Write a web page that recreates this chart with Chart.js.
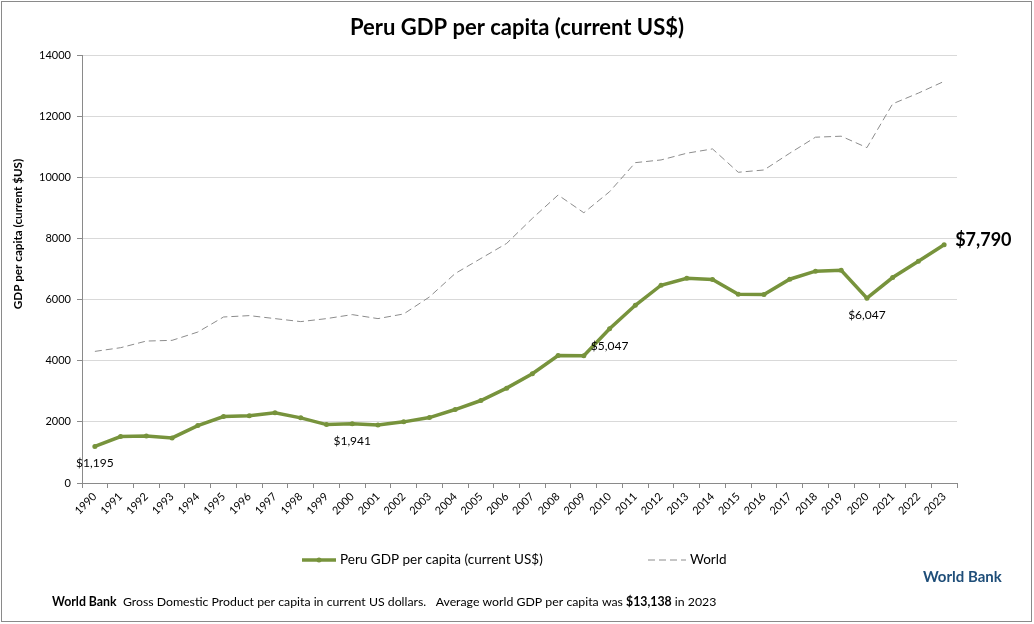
<!DOCTYPE html>
<html>
<head>
<meta charset="utf-8">
<script src="https://cdn.jsdelivr.net/npm/chart.js@4.4.1/dist/chart.umd.min.js"></script>
<style>
  html, body { margin: 0; padding: 0; background: #fff; }
  #wrap { width: 1034px; height: 624px; position: relative; }
  canvas { display: block; }
</style>
</head>
<body>
<div id="wrap"><canvas id="c" width="1034" height="624"></canvas></div>
<script>
const years = ['1990','1991','1992','1993','1994','1995','1996','1997','1998','1999',
  '2000','2001','2002','2003','2004','2005','2006','2007','2008','2009',
  '2010','2011','2012','2013','2014','2015','2016','2017','2018','2019',
  '2020','2021','2022','2023'];
const peruGdp = [1195,1518,1541,1475,1879,2174,2197,2295,2131,1911,
  1941,1901,2000,2141,2403,2698,3103,3574,4170,4160,
  5047,5813,6469,6698,6655,6170,6165,6666,6928,6961,
  6047,6721,7256,7790];
const worldGdp = [4305,4426,4643,4666,4938,5430,5475,5377,5279,5377,
  5508,5377,5530,6085,6852,7344,7836,8656,9420,8840,
  9528,10479,10567,10787,10928,10164,10239,10787,11311,11344,
  10970,12403,12754,13138];
const yTicks = [0,2000,4000,6000,8000,10000,12000,14000];
const annotatedYears = ['1990','2000','2010','2020'];
const highlightYear = '2023';
const chartTitle = 'Peru GDP per capita (current US$)';

const FONT = 'Lato, "Open Sans", sans-serif';
const GREEN = '#77933C';
const GREY = '#8c8c8c';

function fmt(v) { return '$' + v.toLocaleString('en-US'); }

const extras = {
  id: 'extras',
  afterDatasetsDraw(chart) {
    const ctx = chart.ctx;
    const xs = chart.scales.x, ys = chart.scales.y;
    ctx.save();
    ctx.fillStyle = '#000';
    ctx.textAlign = 'center';
    ctx.textBaseline = 'middle';
    ctx.font = '12px ' + FONT;
    annotatedYears.forEach(yr => {
      const i = years.indexOf(yr);
      const px = xs.getPixelForValue(i);
      const py = ys.getPixelForValue(peruGdp[i]);
      ctx.fillText(fmt(peruGdp[i]), px, py + 17);
    });
    const hi = years.indexOf(highlightYear);
    ctx.textAlign = 'left';
    ctx.font = 'bold 18px ' + FONT;
    ctx.fillText(fmt(peruGdp[hi]), xs.getPixelForValue(hi) + 11, ys.getPixelForValue(peruGdp[hi]) - 5);
    ctx.restore();
  },
  afterDraw(chart) {
    const ctx = chart.ctx;
    ctx.save();
    // outer border
    ctx.strokeStyle = '#8a8a8a';
    ctx.lineWidth = 1;
    ctx.strokeRect(1.5, 1.5, 1030, 620);
    // title
    ctx.fillStyle = '#000';
    ctx.font = 'bold 22px ' + FONT;
    ctx.textAlign = 'center';
    ctx.textBaseline = 'middle';
    ctx.fillText(chartTitle, 517, 28);
    // y axis title
    ctx.save();
    ctx.translate(18, 234);
    ctx.rotate(-Math.PI / 2);
    ctx.font = 'bold 11.7px ' + FONT;
    ctx.fillStyle = '#000';
    ctx.textAlign = 'center';
    ctx.textBaseline = 'middle';
    ctx.fillText('GDP per capita (current $US)', 0, 0);
    ctx.restore();
    // legend
    const ds = chart.data.datasets;
    const ly = 560;
    const items = [{x: 302, w: 34}, {x: 648, w: 38}];
    ds.forEach((d, k) => {
      const it = items[k];
      ctx.save();
      ctx.strokeStyle = d.borderColor;
      ctx.lineWidth = d.borderWidth;
      ctx.setLineDash(d.borderDash || []);
      ctx.beginPath();
      ctx.moveTo(it.x, ly);
      ctx.lineTo(it.x + it.w, ly);
      ctx.stroke();
      if (d.pointRadius) {
        ctx.fillStyle = d.borderColor;
        ctx.beginPath();
        ctx.arc(it.x + it.w / 2, ly, 2.5, 0, Math.PI * 2);
        ctx.fill();
      }
      ctx.restore();
      ctx.fillStyle = '#000';
      ctx.font = '13.5px ' + FONT;
      ctx.textAlign = 'left';
      ctx.textBaseline = 'middle';
      ctx.fillText(d.label, it.x + it.w + 4, ly);
    });
    // World Bank right
    ctx.font = 'bold 15px ' + FONT;
    ctx.fillStyle = '#1F4E79';
    ctx.textAlign = 'left';
    ctx.fillText('World Bank', 923, 577);
    // footer
    const parts = [
      ['bold', 'World Bank'],
      ['normal', '  Gross Domestic Product per capita in current US dollars.   Average world GDP per capita was '],
      ['bold', fmt(worldGdp[worldGdp.length - 1])],
      ['normal', ' in ' + years[years.length - 1]]
    ];
    let fx = 52;
    ctx.fillStyle = '#000';
    parts.forEach(([w, t]) => {
      ctx.font = w + ' 12.3px ' + FONT;
      ctx.fillText(t, fx, 602);
      fx += ctx.measureText(t).width;
    });
    ctx.restore();
  }
};

new Chart(document.getElementById('c'), {
  type: 'line',
  data: {
    labels: years,
    datasets: [
      {
        label: 'Peru GDP per capita (current US$)',
        data: peruGdp,
        borderColor: GREEN,
        backgroundColor: GREEN,
        borderWidth: 3.5,
        pointRadius: 2.5,
        pointBackgroundColor: GREEN,
        pointBorderWidth: 0,
        tension: 0,
        order: 0
      },
      {
        label: 'World',
        data: worldGdp,
        borderColor: GREY,
        backgroundColor: GREY,
        borderWidth: 1,
        borderDash: [7, 4],
        pointRadius: 0,
        tension: 0,
        order: 1
      }
    ]
  },
  options: {
    responsive: false,
    animation: false,
    devicePixelRatio: 1,
    layout: { padding: { top: 55, right: 77, bottom: 81, left: 0 } },
    plugins: {
      legend: { display: false },
      tooltip: { enabled: false },
      title: { display: false }
    },
    scales: {
      x: {
        offset: true,
        grid: { display: true, drawOnChartArea: false, drawTicks: true, tickLength: 5, color: '#8a8a8a', offset: true },
        border: { color: '#8a8a8a', width: 1 },
        ticks: { color: '#000', font: { family: FONT, size: 11 }, maxRotation: 45, minRotation: 45, autoSkip: false, padding: 2 },
        afterFit(s) { s.height = 60; }
      },
      y: {
        min: 0, max: 14000,
        afterBuildTicks(s) { s.ticks = yTicks.map(v => ({ value: v })); },
        grid: { color: '#d9d9d9', tickColor: '#8a8a8a', tickLength: 5, drawTicks: true },
        border: { color: '#8a8a8a', width: 1 },
        ticks: { color: '#000', font: { family: FONT, size: 11 }, padding: 6, callback: v => String(v) },
        afterFit(s) { s.width = 82; }
      }
    }
  },
  plugins: [extras]
});
</script>
</body>
</html>
